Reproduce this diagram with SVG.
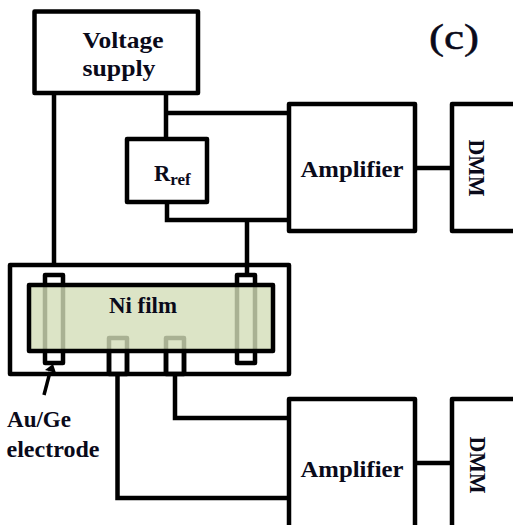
<svg xmlns="http://www.w3.org/2000/svg" width="513" height="525" viewBox="0 0 513 525">
<style>
.b{fill:#fff;stroke:#000;stroke-width:4.5;stroke-linejoin:round}
.e{fill:none;stroke:#000;stroke-width:4.5;stroke-linejoin:round}
.c{fill:none;stroke:#000;stroke-width:4.5}
text{font-family:"Liberation Serif",serif;font-weight:bold;font-size:22.500px;fill:#0a0a1a;text-anchor:middle}
</style>
<rect width="513" height="525" fill="#fff"/>
<g id="connectors">
<path class="c" d="M54,95V266"/>
<path class="c" d="M166,95V139M166,113H289"/>
<path class="c" d="M167,203V220H289M247,220V275"/>
<path class="c" d="M415,168H452"/>
<path class="c" d="M117.500,374V498H289"/>
<path class="c" d="M175,374V418H289"/>
<path class="c" d="M416,463H452"/>
</g>
<g id="voltage-supply"><rect class="b" x="34.500" y="11.500" width="163.500" height="81.500"/><text x="123" y="48" textLength="81" lengthAdjust="spacingAndGlyphs">Voltage</text><text x="119" y="76" textLength="73" lengthAdjust="spacingAndGlyphs">supply</text></g>
<g id="rref"><rect class="b" x="127" y="139" width="80" height="63"/><text x="154" y="181" style="text-anchor:start">R<tspan style="font-size:17px" dy="4">ref</tspan></text></g>
<g id="amplifier-top"><rect class="b" x="289" y="104" width="126" height="127"/><text x="352" y="177" textLength="103" lengthAdjust="spacingAndGlyphs">Amplifier</text></g>
<g id="dmm-top"><path class="e" d="M513,104H452V231H513"/><text transform="translate(476,168) rotate(90)" y="7" textLength="57" lengthAdjust="spacingAndGlyphs" style="font-size:24px">DMM</text></g>
<g id="sample">
<rect class="e" x="10" y="265" width="279" height="109"/>
<rect class="e" x="45" y="275" width="18" height="88"/>
<rect class="e" x="237" y="275" width="18" height="88"/>
<rect class="e" x="109" y="338" width="18" height="36"/>
<rect class="e" x="166" y="338" width="18" height="36"/>
</g>
<g id="ni-film"><rect x="29" y="285" width="244" height="66" fill="rgb(211,221,184)" fill-opacity=".8"/><rect class="e" x="29" y="285" width="244" height="66"/><path class="c" d="M109,351V374M127,351V374M166,351V374M184,351V374"/><text x="143" y="313" textLength="68" lengthAdjust="spacingAndGlyphs">Ni film</text></g>
<g id="electrode-label"><text x="39" y="427" textLength="64" lengthAdjust="spacingAndGlyphs">Au/Ge</text><text x="53" y="457" textLength="93" lengthAdjust="spacingAndGlyphs">electrode</text></g>
<g id="arrow"><path d="M44,395L50,372" fill="none" stroke="#000" stroke-width="3.500"/><polygon points="53,364 45,370 56,373" fill="#000"/></g>
<g id="amplifier-bottom"><path class="e" d="M289,527V399H415V527"/><text x="352" y="477" textLength="103" lengthAdjust="spacingAndGlyphs">Amplifier</text></g>
<g id="dmm-bottom"><path class="e" d="M513,399H452V527"/><text transform="translate(477,465) rotate(90)" y="7" textLength="57" lengthAdjust="spacingAndGlyphs" style="font-size:24px">DMM</text></g>
<text x="454" y="49" style="font-size:36px;font-weight:normal;stroke:#0a0a1a;stroke-width:.5" textLength="50" lengthAdjust="spacingAndGlyphs">(c)</text>
</svg>
